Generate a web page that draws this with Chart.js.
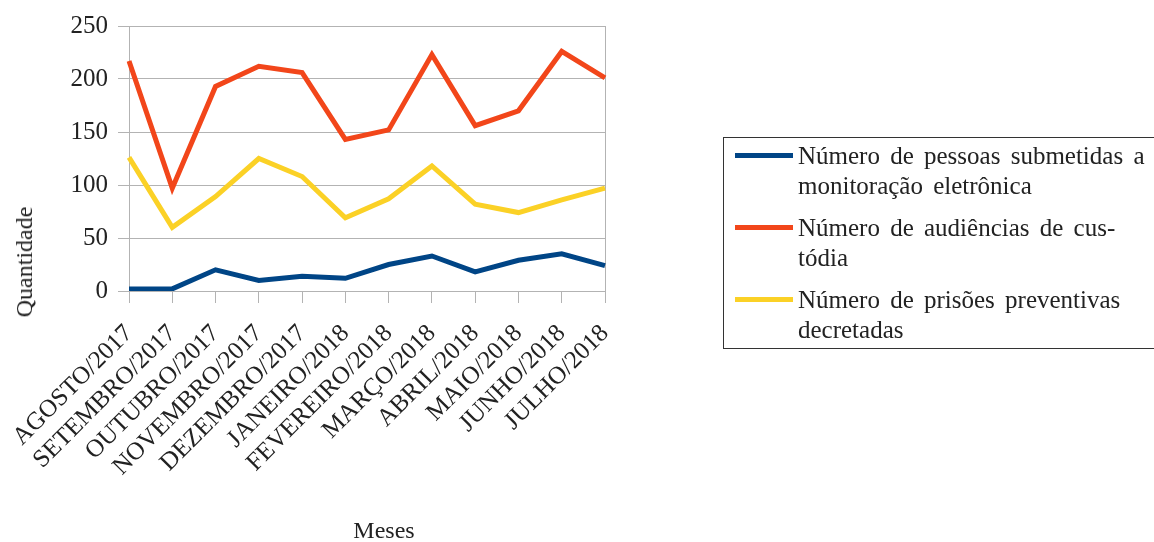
<!DOCTYPE html>
<html>
<head>
<meta charset="utf-8">
<script src="https://cdn.jsdelivr.net/npm/chart.js@4/dist/chart.umd.min.js"></script>
<style>
    body { margin: 0; background: #fff; font-family: "Liberation Serif", serif; color: #222; }
    #wrap { position: relative; width: 1154px; height: 542px; overflow: hidden; }
    #graph { position: absolute; left: 0; top: 0; }
    .axis-title { position: absolute; font-family: "Liberation Serif", serif; font-size: 24px; white-space: nowrap; line-height: 1; }
    #ytitle { left: 24px; top: 262px; transform: translate(-50%, -50%) rotate(-90deg); }
    #xtitle { left: 384px; top: 530px; transform: translate(-50%, -50%); }
    #legend { position: absolute; left: 723px; top: 137px; width: 460px; height: 212px;
              border: 1.5px solid #333; box-sizing: border-box; padding-top: 3px; }
    .entry { position: relative; padding-left: 74px; height: 60px; margin-bottom: 12px; }
    .entry .swatch { position: absolute; left: 11px; top: 12px; width: 58px; height: 5px; }
    .entry .line { display: block; font-family: "Liberation Serif", serif; font-size: 25px;
                   line-height: 30px; white-space: nowrap; word-spacing: 4px; }
</style>
</head>
<body>
<div id="wrap">
    <canvas id="graph" width="1154" height="542"></canvas>
    <div class="axis-title" id="ytitle">Quantidade</div>
    <div class="axis-title" id="xtitle">Meses</div>
    <div id="legend"></div>
</div>
<script>
var months = ['AGOSTO/2017', 'SETEMBRO/2017', 'OUTUBRO/2017', 'NOVEMBRO/2017', 'DEZEMBRO/2017', 'JANEIRO/2018',
              'FEVEREIRO/2018', 'MARÇO/2018', 'ABRIL/2018', 'MAIO/2018', 'JUNHO/2018', 'JULHO/2018'];

var monitorados  = [2, 2, 20, 10, 14, 12, 25, 33, 18, 29, 35, 24];
var audiencias   = [217, 97, 193, 212, 206, 143, 152, 223, 156, 170, 226, 201];
var preventivas  = [126, 60, 89, 125, 108, 69, 87, 118, 82, 74, 86, 97];

var seriesLabels = [
    ['Número de pessoas submetidas a', 'monitoração eletrônica'],
    ['Número de audiências de cus-', 'tódia'],
    ['Número de prisões preventivas', 'decretadas']
];
var seriesColors = ['#004586', '#f2461a', '#fbd126'];

var yTicks = [0, 50, 100, 150, 200, 250];

var gridColor = '#b3b3b3';
var serif = '"Liberation Serif", "Times New Roman", serif';

var datasets = [monitorados, audiencias, preventivas].map(function(values, i) {
    return {
        label: seriesLabels[i].join(' '),
        data: values,
        borderColor: seriesColors[i],
        backgroundColor: seriesColors[i],
        borderWidth: 5,
        pointRadius: 0,
        tension: 0,
        fill: false
    };
});

var ctx = document.getElementById('graph').getContext('2d');
var graph = new Chart(ctx, {
    type: 'line',
    data: { labels: months, datasets: datasets },
    options: {
        responsive: false,
        animation: false,
        devicePixelRatio: 1,
        layout: { padding: { left: 0, top: 26, right: 549, bottom: 0 } },
        plugins: {
            legend: { display: false },
            tooltip: { enabled: false }
        },
        scales: {
            x: {
                offset: false,
                border: { display: true, color: gridColor, width: 1 },
                grid: {
                    drawOnChartArea: true,
                    color: function(c) { return c.index === months.length - 1 ? gridColor : 'rgba(0,0,0,0)'; },
                    tickColor: gridColor,
                    tickLength: 12
                },
                ticks: {
                    autoSkip: false,
                    minRotation: 45,
                    maxRotation: 45,
                    padding: 16,
                    color: '#222',
                    font: { family: serif, size: 25 }
                },
                afterFit: function(scale) {
                    scale.height = 251;
                    scale.paddingLeft = 0;
                    scale.paddingRight = 0;
                }
            },
            y: {
                min: 0,
                max: 250,
                afterBuildTicks: function(scale) {
                    scale.ticks = yTicks.map(function(v) { return { value: v }; });
                },
                border: { display: true, color: gridColor, width: 1 },
                grid: { color: gridColor, tickLength: 11, lineWidth: 1 },
                ticks: {
                    padding: 10,
                    color: '#222',
                    font: { family: serif, size: 25 }
                },
                afterFit: function(scale) { scale.width = 129; }
            }
        }
    }
});

// legend as real text, built from the series arrays
var legend = document.getElementById('legend');
seriesLabels.forEach(function(lines, i) {
    var entry = document.createElement('div');
    entry.className = 'entry';
    var swatch = document.createElement('span');
    swatch.className = 'swatch';
    swatch.style.background = seriesColors[i];
    entry.appendChild(swatch);
    lines.forEach(function(line) {
        var span = document.createElement('span');
        span.className = 'line';
        span.textContent = line;
        entry.appendChild(span);
    });
    legend.appendChild(entry);
});
</script>
</body>
</html>
